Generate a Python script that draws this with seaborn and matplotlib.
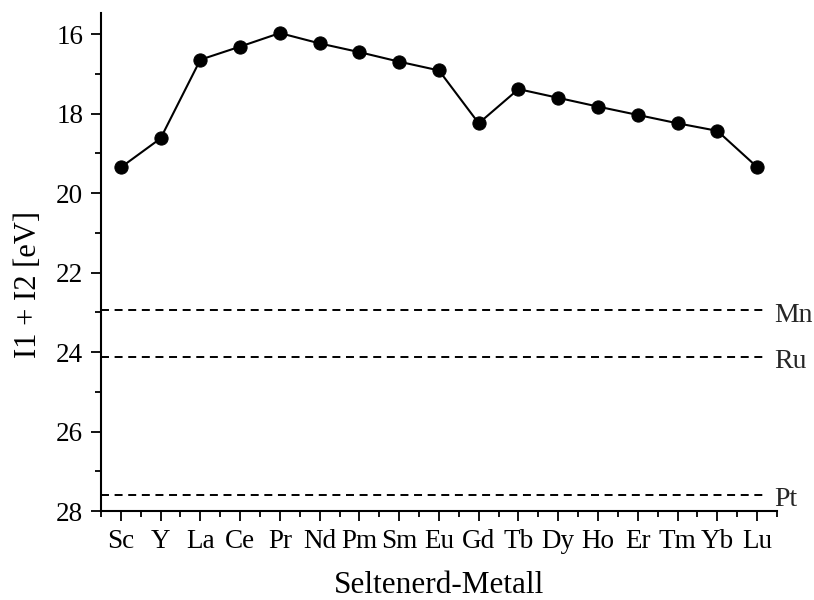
import matplotlib
matplotlib.use("Agg")
import matplotlib.pyplot as plt
from matplotlib.ticker import MultipleLocator, FixedLocator
import numpy as np
import pandas as pd
import seaborn as sns

# Rare-earth metals and their summed first + second ionization energies (eV)
metals = ["Sc", "Y", "La", "Ce", "Pr", "Nd", "Pm", "Sm", "Eu", "Gd",
          "Tb", "Dy", "Ho", "Er", "Tm", "Yb", "Lu"]
i1_i2 = [19.35, 18.62, 16.64, 16.31, 15.97, 16.23, 16.45, 16.69, 16.91, 18.24,
         17.38, 17.60, 17.82, 18.03, 18.24, 18.43, 19.34]

# Reference metals shown as horizontal dashed lines
ref_names = ["Mn", "Ru", "Pt"]
ref_values = [22.95, 24.12, 27.58]

y_ticks = [16, 18, 20, 22, 24, 26, 28]

sns.set_theme(style="ticks")
plt.rcParams["font.family"] = ["Liberation Serif", "DejaVu Serif"]

df = pd.DataFrame({"metal": metals, "energy": i1_i2})

fig = plt.figure(figsize=(8.14, 6.0), dpi=100)
ax = fig.add_axes([0.124, 0.148, 0.8305, 0.83])

sns.lineplot(data=df, x="metal", y="energy", sort=False, ax=ax,
             color="black", linewidth=1.5, marker="o", markersize=9.5,
             markeredgecolor="black", markerfacecolor="black")

n = len(metals)
for name, val in zip(ref_names, ref_values):
    ax.plot([-0.5, n - 1 + 0.2], [val, val], color="black", linewidth=1.4,
            linestyle=(0, (4.1, 2.9)))
    ax.text(n - 1 + 0.42, val + 0.28, name, fontsize=20, va="baseline",
            ha="left", clip_on=False)

ax.set_xlim(-0.5, n - 0.5)
ax.set_ylim(28, 15.47)
ax.set_yticks(y_ticks)
ax.yaxis.set_minor_locator(MultipleLocator(1))
ax.xaxis.set_minor_locator(FixedLocator(np.arange(-0.5, n, 1.0)))

ax.tick_params(axis="both", which="major", direction="out", length=7.2,
               width=1.3, labelsize=19.5, color="black", labelcolor="black",
               pad=5.5)
ax.tick_params(axis="both", which="minor", direction="out", length=4,
               width=1.3, color="black")

for side in ["top", "right"]:
    ax.spines[side].set_visible(False)
for side in ["left", "bottom"]:
    ax.spines[side].set_linewidth(1.5)
    ax.spines[side].set_color("black")

ax.set_xlabel("Seltenerd-Metall", fontsize=22.5, labelpad=12, color="black")
ax.set_ylabel("I1 + I2 [eV]", fontsize=22, color="black")
ax.yaxis.set_label_coords(-0.086, 0.456)

fig.savefig("out.png", dpi=100)
